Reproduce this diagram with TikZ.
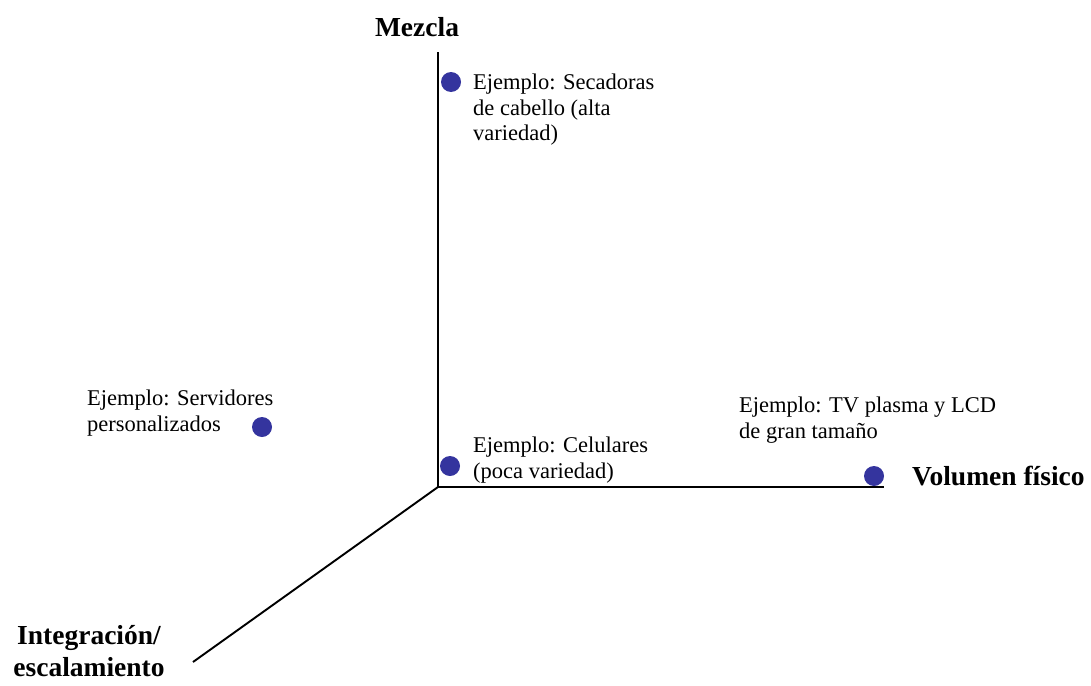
\documentclass[tikz,border=0pt]{standalone}
\usepackage{fontspec}
\setmainfont{Liberation Serif}
\definecolor{dotblue}{RGB}{52,52,158}
\tikzset{
  dot/.style={circle,fill=dotblue,inner sep=0pt,minimum size=20pt},
  example/.style={anchor=north west,align=left,inner sep=0pt,font=\fontsize{22.5}{25.5}\selectfont},
  axislabel/.style={inner sep=0pt,font=\fontsize{27.5}{32}\selectfont\bfseries}
}
\begin{document}
\begin{tikzpicture}[x=1pt,y=-1pt]
        \useasboundingbox (0,0) rectangle (1091,685);
        % axes
        \coordinate (origin) at (438,487);
        \coordinate (mixtop) at (438,52);
        \coordinate (voltip) at (884,487);
        \coordinate (inttip) at (193,662);
        \draw [line width=2.4pt] (origin) -- (mixtop);
        \draw [line width=2.4pt] (origin) -- (voltip);
        \draw [line width=1.9pt] (origin) -- (inttip);
        % axis names
        \node [axislabel] (mezcla) at (417,27) {Mezcla};
        \node [axislabel,anchor=west] (volumen) at (912,476) {Volumen físico};
        \node [axislabel,align=center] (integracion) at (89,651) {Integración/\\escalamiento};
        % dots
        \node [dot] (secadoras) at (451,82) {};
        \node [dot] (servidores) at (262,427) {};
        \node [dot] (celulares) at (450,466) {};
        \node [dot] (tv) at (874,476) {};
        % examples
        \node [example] (txtsecadoras) at (473,74) {Ejemplo: Secadoras\\de cabello (alta\\variedad)};
        \node [example] (txtservidores) at (87,390) {Ejemplo: Servidores\\personalizados};
        \node [example] (txtcelulares) at (473,437) {Ejemplo: Celulares\\(poca variedad)};
        \node [example] (txttv) at (739,397) {Ejemplo: TV plasma y LCD\\de gran tamaño};
\end{tikzpicture}
\end{document}
